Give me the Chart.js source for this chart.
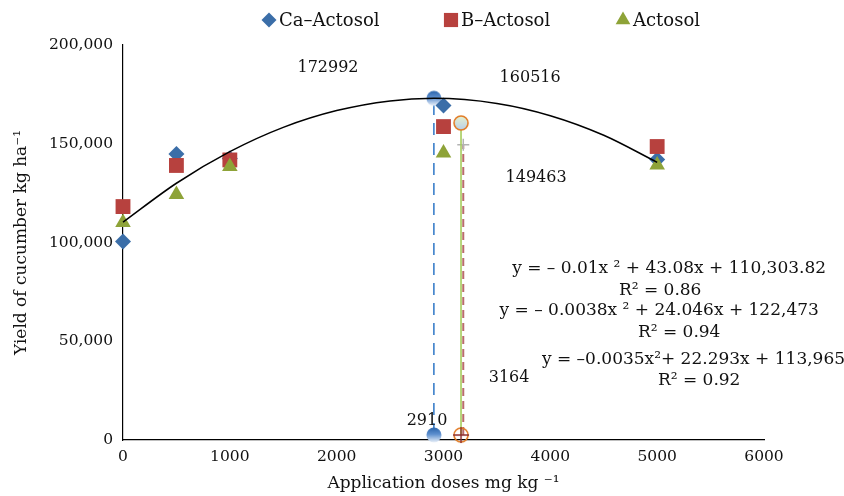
<!DOCTYPE html>
<html>
<head>
<meta charset="utf-8">
<script src="https://cdn.jsdelivr.net/npm/chart.js@4.4.0/dist/chart.umd.min.js"></script>
<style>
html,body{margin:0;padding:0;background:#fff;}
#wrap{width:844px;height:496px;position:relative;}
</style>
</head>
<body>
<div id="wrap"><canvas id="c" width="844" height="496"></canvas></div>
<script>
// ---- data ----
const doses = [0, 500, 1000, 3000, 5000];
const seriesNames = ['Ca–Actosol', 'B–Actosol', 'Actosol'];
const caActosol = [100500, 144800, 142500, 169400, 142000];
const bActosol  = [118200, 139000, 141800, 158700, 148600];
const actosol   = [110100, 124300, 138500, 145300, 139200];

// fitted trend curve
const trendX = [0, 500, 1000, 1500, 2000, 2500, 2910, 3500, 4000, 4500, 5000];
const trendY = [110300, 130000, 146000, 158300, 166800, 171700, 172992, 170400, 164200, 154300, 140600];

// optimum doses and yields (vertices)
const vertexX = [2910, 3164, 3185];
const vertexY = [172992, 160516, 149463];
const dropBase = 2500;

const xTickStep = 1000, xMax = 6000;
const yTickStep = 50000, yMax = 200000;

const vertexLabels = ['172992', '160516', '149463', '2910', '3164'];
const equations = [
  'y = – 0.01x ² + 43.08x + 110,303.82', 'R² = 0.86',
  'y = – 0.0038x ² + 24.046x + 122,473', 'R² = 0.94',
  'y = –0.0035x²+ 22.293x + 113,965', 'R² = 0.92'
];

// ---- styling / placement (not data) ----
const FONT = '"DejaVu Serif", "Liberation Serif", serif';
const colors = ['#3b6ea8', '#b7413e', '#8ea338'];
const styles = ['rectRot', 'rect', 'triangle'];
const radii = [8, 10.5, 9];

const notePos = [
  [1919, 188400], [3811, 183300], [3867, 132700], [2846, 9600], [3614, 31400]
];
const eqPos = [
  [5112, 86600], [5028, 75900], [5019, 65300], [5206, 54200], [5340, 40500], [5393, 29900]
];

function makeMarker(draw) {
  const c = document.createElement('canvas');
  c.width = 18; c.height = 18;
  draw(c.getContext('2d'));
  return c;
}
const sphereBlue = makeMarker(g => {
  const gr = g.createLinearGradient(0, 1.5, 0, 16.5);
  gr.addColorStop(0, '#2a64ab'); gr.addColorStop(0.45, '#5e90cf'); gr.addColorStop(1, '#eef3fa');
  g.fillStyle = gr; g.beginPath(); g.arc(9, 9, 7.5, 0, Math.PI * 2); g.fill();
});
const ringTop = makeMarker(g => {
  const gr = g.createLinearGradient(0, 2, 0, 16);
  gr.addColorStop(0, '#e6f1cf'); gr.addColorStop(1, '#b8cfe9');
  g.fillStyle = gr; g.beginPath(); g.arc(9, 9, 7, 0, Math.PI * 2); g.fill();
  g.strokeStyle = '#e27c27'; g.lineWidth = 1.6; g.stroke();
});
const ringBottom = makeMarker(g => {
  g.strokeStyle = '#e27c27'; g.lineWidth = 1.6;
  g.beginPath(); g.arc(9, 9, 7, 0, Math.PI * 2); g.stroke();
  g.strokeStyle = '#8c2a2a'; g.lineWidth = 1.4;
  g.beginPath(); g.moveTo(9, 1); g.lineTo(9, 17); g.moveTo(1, 9); g.lineTo(17, 9); g.stroke();
});

const pts = (xs, ys) => xs.map((x, i) => ({x, y: ys[i]}));

const seriesData = [caActosol, bActosol, actosol];
const scatterSets = seriesData.map((vals, i) => ({
  type: 'scatter',
  label: seriesNames[i],
  data: pts(doses, vals),
  pointStyle: styles[i],
  pointRadius: radii[i],
  pointHoverRadius: radii[i],
  backgroundColor: colors[i],
  borderColor: colors[i],
  borderWidth: 0,
  showLine: false,
  order: 5 - i,
  clip: false
}));

const datasets = [
  ...scatterSets,
  {
    type: 'line', label: 'trend',
    data: pts(trendX, trendY),
    borderColor: '#000', borderWidth: 1.5, pointRadius: 0,
    cubicInterpolationMode: 'monotone', fill: false, order: 1, clip: false
  },
  {
    type: 'line', label: 'drop1',
    data: [{x: vertexX[0], y: dropBase}, {x: vertexX[0], y: vertexY[0]}],
    borderColor: '#2f77c6', borderWidth: 1.5, borderDash: [12, 8],
    pointStyle: [sphereBlue, sphereBlue], pointRadius: 7, fill: false, order: 10, clip: false
  },
  {
    type: 'line', label: 'drop2',
    data: [{x: vertexX[1], y: dropBase}, {x: vertexX[1], y: vertexY[1]}],
    borderColor: '#a6cc5c', borderWidth: 1.6,
    pointStyle: [ringBottom, ringTop], pointRadius: 7, fill: false, order: 9, clip: false
  },
  {
    type: 'line', label: 'drop3',
    data: [{x: vertexX[2], y: dropBase}, {x: vertexX[2], y: vertexY[2]}],
    borderColor: '#b96b6b', borderWidth: 2, borderDash: [8, 5],
    pointStyle: ['cross', 'cross'], pointRadius: [0, 6], pointBorderColor: '#b3b3b3', pointBorderWidth: 1.5,
    fill: false, order: 11, clip: false
  }
];

const notesPlugin = {
  id: 'notes',
  afterDatasetsDraw(chart) {
    const {ctx, scales: {x, y}} = chart;
    ctx.save();
    ctx.fillStyle = '#111';
    ctx.textAlign = 'center';
    ctx.textBaseline = 'middle';
    ctx.font = '16px ' + FONT;
    vertexLabels.forEach((t, i) => {
      ctx.fillText(t, x.getPixelForValue(notePos[i][0]), y.getPixelForValue(notePos[i][1]));
    });
    ctx.font = '17px ' + FONT;
    equations.forEach((t, i) => {
      ctx.fillText(t, x.getPixelForValue(eqPos[i][0]), y.getPixelForValue(eqPos[i][1]));
    });
    ctx.restore();
  }
};

const legendMarkX = [269, 451, 623];
const legendPlugin = {
  id: 'legendRow',
  afterDraw(chart) {
    const ctx = chart.ctx;
    ctx.save();
    const ly = 20;
    seriesNames.forEach((name, i) => {
      ctx.fillStyle = colors[i];
      Chart.helpers.drawPoint(ctx, {pointStyle: styles[i], radius: [7.5, 10, 8.5][i], rotation: 0, borderWidth: 0}, legendMarkX[i], ly);
      ctx.fillStyle = '#111';
      ctx.font = '18px ' + FONT;
      ctx.textAlign = 'left';
      ctx.textBaseline = 'middle';
      ctx.fillText(name, legendMarkX[i] + 10, ly + 1);
    });
    ctx.restore();
  }
};

new Chart(document.getElementById('c'), {
  type: 'scatter',
  data: {datasets},
  options: {
    responsive: false,
    animation: false,
    devicePixelRatio: 1,
    layout: {padding: {top: 45, right: 80, left: 0, bottom: 0}},
    plugins: {legend: {display: false}, tooltip: {enabled: false}},
    scales: {
      x: {
        type: 'linear', min: 0, max: xMax,
        grid: {display: false, drawTicks: false},
        border: {display: true, color: '#000', width: 1.2},
        ticks: {stepSize: xTickStep, padding: 8, color: '#111', font: {family: FONT, size: 15.5}, callback: v => String(v), maxRotation: 0},
        title: {display: true, text: 'Application doses mg kg ⁻¹', color: '#111', font: {family: FONT, size: 17}, padding: {top: 0, bottom: 2}},
        afterFit: s => { s.height = 56; }
      },
      y: {
        type: 'linear', min: 0, max: yMax,
        grid: {display: false, drawTicks: false},
        border: {display: true, color: '#000', width: 1.2},
        ticks: {stepSize: yTickStep, padding: 10, color: '#111', font: {family: FONT, size: 15.5}, callback: v => v.toLocaleString('en-US')},
        title: {display: true, text: 'Yield of cucumber kg ha⁻¹', color: '#111', font: {family: FONT, size: 17}, padding: {top: 11, bottom: 0}},
        afterFit: s => { s.width = 123; }
      }
    }
  },
  plugins: [notesPlugin, legendPlugin]
});
</script>
</body>
</html>
